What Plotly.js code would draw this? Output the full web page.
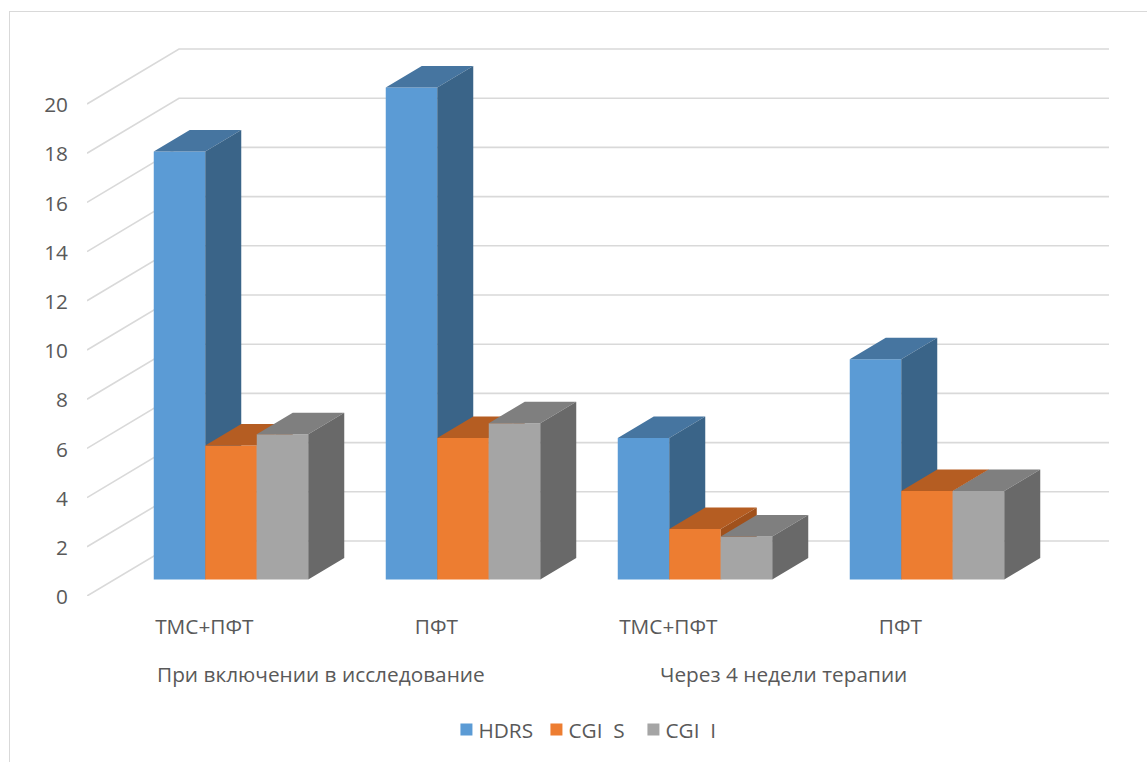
<!DOCTYPE html>
<html>
<head>
<meta charset="utf-8">
<script src="https://cdn.plot.ly/plotly-3.0.1.min.js"></script>
<style>
  html, body { margin: 0; padding: 0; background: #fff; overflow: hidden; }
  #chart { width: 1147px; height: 762px; }
  #frame { position: absolute; left: 9px; top: 11px; right: 0; bottom: 0;
           border-left: 1.5px solid #d9d9d9; border-top: 1.5px solid #d9d9d9; pointer-events: none; }
</style>
</head>
<body>
<div id="chart"></div>
<div id="frame"></div>
<script>
// Scores by treatment arm and visit
const armLabels = ["ТМС+ПФТ", "ПФТ", "ТМС+ПФТ", "ПФТ"];
const phaseLabels = ["При включении в исследование", "Через 4 недели терапии"];
const hdrs = [17.4, 20.0, 5.75, 8.95];
const cgiS = [5.45, 5.75, 2.05, 3.6];
const cgiI = [5.9, 6.35, 1.75, 3.6];
const tickValues = [0, 2, 4, 6, 8, 10, 12, 14, 16, 18, 20];

// Plot-area geometry: one x unit is a cluster step, y units are score points
const PX_PER_X = 232, PX_PER_Y = 24.6;
const M = { l: 87, r: 38, t: 45, b: 166 };
const plotW = 1147 - M.l - M.r, plotH = 762 - M.t - M.b;
const xLeft = (M.l - 231) / PX_PER_X;
const xRange = [xLeft, xLeft + plotW / PX_PER_X];
const yTop = plotH / PX_PER_Y;

// Oblique projection: depth of the bars and of the back wall, in axis units
const barW = 51.5 / PX_PER_X;
const barDx = 36 / PX_PER_X, barDy = 21.5 / PX_PER_Y;
const wallDx = 92 / PX_PER_X, wallDy = 55 / PX_PER_Y;
const floorLift = 16.5 / PX_PER_Y; // bars stand this far behind the front edge of the floor

const seriesDefs = [
  { name: "HDRS",   values: hdrs, front: "#5b9bd5", top: "#4675a0", side: "#3a6488", axis: "y2" },
  { name: "CGI  S", values: cgiS, front: "#ed7d31", top: "#b55d22", side: "#a0511c", axis: "y3" },
  { name: "CGI  I", values: cgiI, front: "#a5a5a5", top: "#7f7f7f", side: "#696969", axis: "y4" }
];

const traces = [];
seriesDefs.forEach((s, i) => {
  const lefts = s.values.map((_, g) => g + (i - 1.5) * barW);
  const topX = [], topY = [], sideX = [], sideY = [];
  s.values.forEach((v, g) => {
    const a = lefts[g], b = a + barW;
    topX.push(a, b, b + barDx, a + barDx, a, null);
    topY.push(v, v, v + barDy, v + barDy, v, null);
    sideX.push(b, b + barDx, b + barDx, b, b, null);
    sideY.push(0, barDy, v + barDy, v, 0, null);
  });
  traces.push({
    type: "bar", name: s.name, x: lefts, y: s.values, width: barW, offset: 0,
    marker: { color: s.front, line: { width: 0 } }, xaxis: "x", yaxis: s.axis,
    hoverinfo: "y+name"
  });
  [[topX, topY, s.top], [sideX, sideY, s.side]].forEach(([px, py, c]) => {
    traces.push({
      type: "scatter", mode: "lines", x: px, y: py, fill: "toself", fillcolor: c,
      line: { width: 0, color: c }, showlegend: false, hoverinfo: "skip",
      xaxis: "x", yaxis: s.axis
    });
  });
});

// Grid lines run over the floor edge and then along the back wall
const wallLines = tickValues.map(v => ({
  type: "path", xref: "x", yref: "y", layer: "below",
  path: `M${xRange[0]},${v} L${xRange[0] + wallDx},${v + wallDy} L${xRange[1]},${v + wallDy}`,
  line: { color: "#d9d9d9", width: 1.6 }
}));

const barAxis = {
  overlaying: "y", range: [-floorLift, yTop - floorLift], visible: false, fixedrange: true
};
const textFont = { family: "'Open Sans', 'Noto Sans', sans-serif", size: 20.8, color: "#595959" };

const layout = {
  width: 1147, height: 762, margin: M, autosize: false,
  paper_bgcolor: "#fff", plot_bgcolor: "rgba(0,0,0,0)", font: textFont,
  showlegend: true, hovermode: "closest",
  legend: {
    orientation: "h", x: 0.497, xanchor: "center", xref: "paper", y: -0.243, yanchor: "middle", yref: "paper",
    font: textFont, traceorder: "normal", itemclick: false, itemdoubleclick: false,
    entrywidth: 54, entrywidthmode: "pixels"
  },
  xaxis: {
    range: xRange, fixedrange: true, showgrid: false, zeroline: false, showline: false,
    tickmode: "array", tickvals: armLabels.map((_, g) => g - 0.115), ticktext: armLabels,
    ticks: "", ticklabelstandoff: 16, tickangle: 0, tickfont: textFont
  },
  yaxis: {
    range: [0, yTop], fixedrange: true, showgrid: false, zeroline: false, showline: false,
    tickmode: "array", tickvals: tickValues, ticks: "", ticklabelstandoff: 18, tickfont: textFont
  },
  yaxis2: barAxis, yaxis3: barAxis, yaxis4: barAxis,
  shapes: wallLines,
  annotations: [
    { text: phaseLabels[0], xref: "x", yref: "paper", x: 0.387, y: 0, yshift: -78, yanchor: "middle", xanchor: "center", showarrow: false, font: textFont },
    { text: phaseLabels[1], xref: "x", yref: "paper", x: 2.382, y: 0, yshift: -78, yanchor: "middle", xanchor: "center", showarrow: false, font: textFont }
  ]
};

Plotly.newPlot("chart", traces, layout, { displayModeBar: false, responsive: false }).then(gd => {
  // Tighten the legend: labels closer to their swatches, entries closer together
  gd.querySelectorAll(".legend .legendtext").forEach(t => {
    t.setAttribute("x", parseFloat(t.getAttribute("x")) - 8);
  });
  const entryNudge = [0, -9, -11];
  gd.querySelectorAll(".legend .traces").forEach((g, i) => {
    const m = /translate\(([-\d.]+)[, ]+([-\d.]+)\)/.exec(g.getAttribute("transform"));
    if (m) g.setAttribute("transform", `translate(${parseFloat(m[1]) + entryNudge[i]},${m[2]})`);
  });
  // Centre the value labels on their floor-edge grid lines
  gd.querySelectorAll(".ytick text").forEach(t => {
    t.setAttribute("y", parseFloat(t.getAttribute("y") || 0) + 1);
  });
});
</script>
</body>
</html>
